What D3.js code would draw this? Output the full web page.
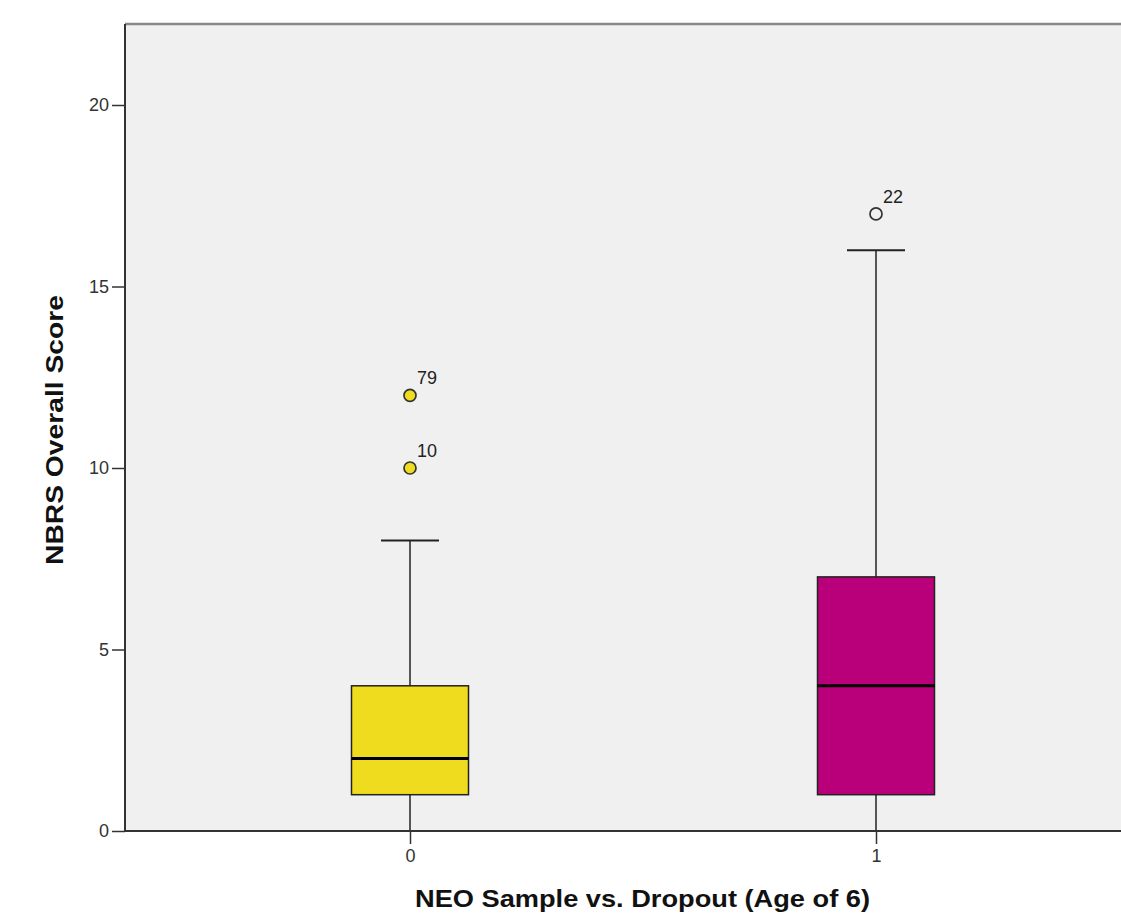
<!DOCTYPE html>
<html><head><meta charset="utf-8">
<script src="https://cdn.jsdelivr.net/npm/d3@7"></script>
<style>body{margin:0;background:#fff}svg{display:block}text{font-family:Arial,"Liberation Sans",sans-serif}</style>
</head><body>
<script>
const categories = ["0", "1"];
const mins = [0, 0];
const q1s = [1, 1];
const medians = [2, 4];
const q3s = [4, 7];
const maxs = [8, 16];
const outlierValues = [[12, 10], [17]];
const outlierLabels = [["79", "10"], ["22"]];
const boxColors = ["#f0dc1e", "#b9007a"];
const outlierFill = ["#f0dc1e", "none"];
const yTicks = [0, 5, 10, 15, 20];

const W = 1121, H = 913;
const L = 125, T = 24, B = 831, R = 1121;
const svg = d3.select("body").append("svg").attr("width", W).attr("height", H);

const y = d3.scaleLinear().domain([0, 20]).range([B, 105]);
const x = d3.scalePoint().domain(categories).range([410, 876]);

svg.append("rect").attr("x", L).attr("y", T).attr("width", R - L + 5).attr("height", B - T).attr("fill", "#f0f0f0");
svg.append("line").attr("x1", L).attr("x2", R).attr("y1", T).attr("y2", T).attr("stroke", "#888").attr("stroke-width", 2.5);

const boxW = 117, capW = 58;
categories.forEach((c, i) => {
  const cx = x(c);
  const g = svg.append("g");
  g.append("line").attr("x1", cx).attr("x2", cx).attr("y1", y(q3s[i])).attr("y2", y(maxs[i])).attr("stroke", "#222").attr("stroke-width", 1.5);
  g.append("line").attr("x1", cx).attr("x2", cx).attr("y1", y(q1s[i])).attr("y2", y(mins[i])).attr("stroke", "#222").attr("stroke-width", 1.5);
  g.append("line").attr("x1", cx - capW / 2).attr("x2", cx + capW / 2).attr("y1", y(maxs[i])).attr("y2", y(maxs[i])).attr("stroke", "#222").attr("stroke-width", 2);
  g.append("line").attr("x1", cx - capW / 2).attr("x2", cx + capW / 2).attr("y1", y(mins[i])).attr("y2", y(mins[i])).attr("stroke", "#222").attr("stroke-width", 2);
  g.append("rect").attr("x", cx - boxW / 2).attr("y", y(q3s[i])).attr("width", boxW).attr("height", y(q1s[i]) - y(q3s[i]))
    .attr("fill", boxColors[i]).attr("stroke", "#222").attr("stroke-width", 1.5);
  g.append("line").attr("x1", cx - boxW / 2).attr("x2", cx + boxW / 2).attr("y1", y(medians[i])).attr("y2", y(medians[i])).attr("stroke", "#000").attr("stroke-width", 3);
  outlierValues[i].forEach((v, j) => {
    g.append("circle").attr("cx", cx).attr("cy", y(v)).attr("r", 6).attr("fill", outlierFill[i]).attr("stroke", "#333").attr("stroke-width", 1.7);
    g.append("text").attr("x", cx + 7).attr("y", y(v) - 11).attr("font-size", 18).attr("fill", "#222").text(outlierLabels[i][j]);
  });
});

const yAxis = svg.append("g").attr("transform", `translate(${L},0)`)
  .call(d3.axisLeft(y).tickValues(yTicks).tickSize(13).tickPadding(3));
yAxis.select(".domain").remove();
yAxis.append("line").attr("x1", 0).attr("x2", 0).attr("y1", T).attr("y2", B).attr("stroke", "#333").attr("stroke-width", 2);
yAxis.selectAll(".tick line").attr("stroke", "#333").attr("stroke-width", 1.5);
yAxis.selectAll(".tick text").attr("font-size", 18).attr("fill", "#333").attr("font-family", "Arial,'Liberation Sans',sans-serif");

const xAxis = svg.append("g").attr("transform", `translate(0,${B})`)
  .call(d3.axisBottom(x).tickSize(13).tickPadding(5));
xAxis.select(".domain").remove();
xAxis.append("line").attr("x1", L).attr("x2", R).attr("y1", 0).attr("y2", 0).attr("stroke", "#333").attr("stroke-width", 2);
xAxis.selectAll(".tick line").attr("stroke", "#333").attr("stroke-width", 1.5);
xAxis.selectAll(".tick text").attr("font-size", 18).attr("fill", "#333").attr("font-family", "Arial,'Liberation Sans',sans-serif");

svg.append("text").attr("x", 415).attr("y", 907).attr("font-size", 24).attr("font-weight", "bold").attr("fill", "#111")
  .attr("textLength", 455).attr("lengthAdjust", "spacingAndGlyphs")
  .text("NEO Sample vs. Dropout (Age of 6)");
svg.append("text").attr("transform", `translate(63,565) rotate(-90)`).attr("font-size", 24).attr("font-weight", "bold").attr("fill", "#111")
  .attr("textLength", 270).attr("lengthAdjust", "spacingAndGlyphs")
  .text("NBRS Overall Score");
</script>
</body></html>
